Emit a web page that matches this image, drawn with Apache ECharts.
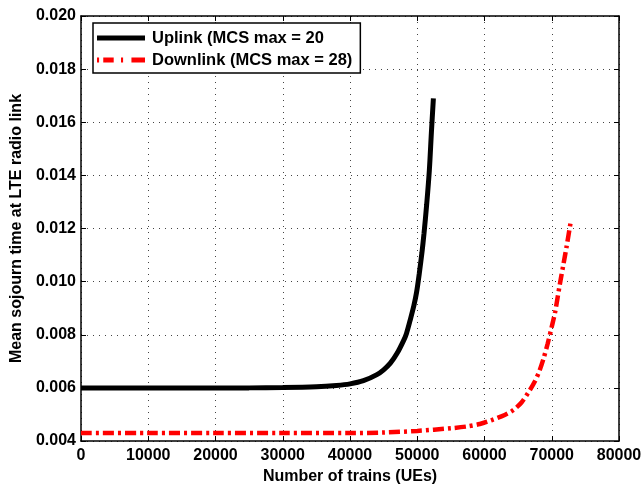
<!DOCTYPE html>
<html>
<head>
<meta charset="utf-8">
<script src="https://cdn.jsdelivr.net/npm/echarts@6/dist/echarts.min.js"></script>
<style>html,body{margin:0;padding:0;background:#fff}#c{width:644px;height:484px}</style>
</head>
<body>
<div id="c"></div>
<script>
var uplinkX = [0, 10000, 20000, 25000, 30000, 35000, 38000, 40000, 42000, 44000, 45000, 46000, 47000, 48000, 48400, 49000, 49500, 49900, 50300, 50700, 51000, 51400, 51800, 52100, 52400];
var uplinkY = [0.0060, 0.0060, 0.0060, 0.00600, 0.00601, 0.00604, 0.00609, 0.00615, 0.00627, 0.00650, 0.00668, 0.00693, 0.00730, 0.00780, 0.00805, 0.00860, 0.00910, 0.00960, 0.01030, 0.01110, 0.01180, 0.01290, 0.01420, 0.01560, 0.01690];
var downlinkX = [0, 10000, 20000, 30000, 40000, 45000, 50000, 55000, 57500, 59300, 61000, 63000, 64200, 65500, 66700, 67500, 68200, 68800, 69400, 70000, 70500, 71200, 71700, 72200, 72800];
var downlinkY = [0.0043, 0.0043, 0.0043, 0.0043, 0.0043, 0.00432, 0.00438, 0.00448, 0.00455, 0.00464, 0.00478, 0.00498, 0.00515, 0.00545, 0.00590, 0.00625, 0.00666, 0.00712, 0.00767, 0.00830, 0.00885, 0.00990, 0.01060, 0.01131, 0.01222];
var xTicks = {min: 0, max: 80000, interval: 10000};
var yTicks = {min: 0.004, max: 0.020, interval: 0.002};
var seriesNames = ['Uplink (MCS max = 20', 'Downlink (MCS max = 28)'];
var xName = 'Number of trains (UEs)';
var yName = 'Mean sojourn time at LTE radio link';

function pairs(xs, ys){ return xs.map(function(x,i){ return [x, ys[i]]; }); }

var legendIcons = [
  'path://M0 0h46v5h-46z',
  'path://M0 0h2v5h-2zM6 0h10v5h-10zM23 0h2v5h-2zM33 0h13v5h-13z'
];

var font = 'Liberation Sans, Arial, sans-serif';
var chart = echarts.init(document.getElementById('c'), null, {renderer: 'canvas'});
var lab = {color: '#000', fontFamily: font, fontWeight: 'bold', fontSize: 16};
chart.setOption({
  animation: false,
  backgroundColor: '#fff',
  grid: {left: 81, right: 25, top: 16, bottom: 43, show: false, containLabel: false, outerBoundsMode: 'none'},
  legend: {
    orient: 'vertical', left: 93, top: 23,
    data: seriesNames.map(function(n, i){ return {name: n, icon: legendIcons[i]}; }),
    symbolKeepAspect: false,
    backgroundColor: '#fff', borderColor: '#000', borderWidth: 1.5,
    padding: [6, 8, 4, 4], itemGap: 4, itemWidth: 48, itemHeight: 5,
    textStyle: {color: '#000', fontFamily: font, fontWeight: 'bold', fontSize: 16.5, lineHeight: 18, padding: [0, 0, 0, 2]}
  },
  xAxis: [{
    type: 'value', min: xTicks.min, max: xTicks.max, interval: xTicks.interval,
    name: xName, nameLocation: 'middle', nameGap: 28,
    nameTextStyle: {color: '#000', fontFamily: font, fontWeight: 'bold', fontSize: 16},
    axisLine: {show: true, onZero: false, lineStyle: {color: '#000', width: 1.5}},
    axisTick: {show: true, inside: true, length: 5, lineStyle: {color: '#000'}},
    axisLabel: Object.assign({margin: 7, formatter: function(v){ return String(v); }}, lab),
    splitLine: {show: true, lineStyle: {color: '#444', type: [1, 5], width: 1}}
  }, {
    type: 'value', position: 'top', min: xTicks.min, max: xTicks.max, interval: xTicks.interval,
    axisLine: {show: true, onZero: false, lineStyle: {color: '#000', width: 1.5}},
    axisTick: {show: true, inside: true, length: 5, lineStyle: {color: '#000'}},
    axisLabel: {show: false}, splitLine: {show: false}
  }],
  yAxis: [{
    type: 'value', min: yTicks.min, max: yTicks.max, interval: yTicks.interval,
    name: yName, nameLocation: 'middle', nameGap: 53, nameRotate: 90,
    nameTextStyle: {color: '#000', fontFamily: font, fontWeight: 'bold', fontSize: 16},
    axisLine: {show: true, onZero: false, lineStyle: {color: '#000', width: 1.5}},
    axisTick: {show: true, inside: true, length: 5, lineStyle: {color: '#000'}},
    axisLabel: Object.assign({margin: 5, formatter: function(v){ return v.toFixed(3); }}, lab),
    splitLine: {show: true, lineStyle: {color: '#444', type: [1, 5], width: 1}}
  }, {
    type: 'value', position: 'right', min: yTicks.min, max: yTicks.max, interval: yTicks.interval,
    axisLine: {show: true, onZero: false, lineStyle: {color: '#000', width: 1.5}},
    axisTick: {show: true, inside: true, length: 5, lineStyle: {color: '#000'}},
    axisLabel: {show: false}, splitLine: {show: false}
  }],
  series: [{
    name: seriesNames[0], type: 'line', data: pairs(uplinkX, uplinkY),
    smooth: 0.3, showSymbol: false, symbol: 'none', z: 3,
    lineStyle: {color: '#000', width: 5}, itemStyle: {color: '#000'}
  }, {
    name: seriesNames[1], type: 'line', data: pairs(downlinkX, downlinkY),
    smooth: 0.3, showSymbol: false, symbol: 'none', z: 3,
    lineStyle: {color: '#ff0000', width: 4.5, type: [11, 4, 3, 4]}, itemStyle: {color: '#ff0000'}
  }]
});
</script>
</body>
</html>
